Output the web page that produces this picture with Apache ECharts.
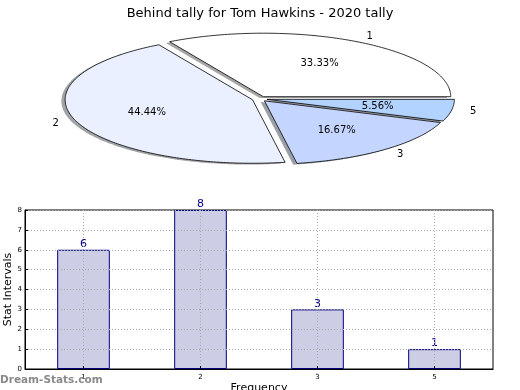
<!DOCTYPE html>
<html>
<head>
<meta charset="utf-8">
<script src="https://cdn.jsdelivr.net/npm/echarts@6/dist/echarts.min.js"></script>
<style>html,body{margin:0;padding:0;background:#fff;}#c{width:520px;height:390px;}</style>
</head>
<body>
<div id="c"></div>
<script>
// ---- data ----
const titleText = 'Behind tally for Tom Hawkins - 2020 tally';
const categories = ['1', '2', '3', '5'];
const counts = [6, 8, 3, 1];
const yMin = 0, yMax = 8, yStep = 1;
const xAxisName = 'Frequency';
const yAxisName = 'Stat Intervals';
const watermark = 'Dream-Stats.com';

// ---- styles ----
const sliceColors = ['#ffffff', '#eaf0ff', '#c4d6ff', '#b2d2ff'];
const EXPLODE = 0.04;
const FONT = 'DejaVu Sans';

function hexToRgb(h) {
  const n = parseInt(h.slice(1), 16);
  return [(n >> 16) & 255, (n >> 8) & 255, n & 255];
}

function renderPie(params, api) {
  const i = params.dataIndex;
  const total = counts.reduce((a, b) => a + b, 0);
  let cum = 0;
  for (let j = 0; j < i; j++) cum += counts[j];
  const v = api.value(1);
  const t1 = cum / total * Math.PI * 2;
  const t2 = (cum + v) / total * Math.PI * 2;
  const tm = (t1 + t2) / 2;
  const ex = EXPLODE * Math.cos(tm), ey = EXPLODE * Math.sin(tm);
  const n = Math.max(2, Math.ceil((t2 - t1) / (Math.PI / 180)));
  const pts = [api.coord([ex, ey])];
  const sh = [api.coord([ex - 0.02, ey - 0.02])];
  for (let k = 0; k <= n; k++) {
    const t = t1 + (t2 - t1) * k / n;
    pts.push(api.coord([ex + Math.cos(t), ey + Math.sin(t)]));
    sh.push(api.coord([ex - 0.02 + Math.cos(t), ey - 0.02 + Math.sin(t)]));
  }
  const rgb = hexToRgb(sliceColors[i % sliceColors.length]).map(c => Math.round(c * 0.3));
  const lx = ex + 1.1 * Math.cos(tm), ly = ey + 1.1 * Math.sin(tm);
  const lp = api.coord([lx, ly]);
  const px = ex + 0.6 * Math.cos(tm), py = ey + 0.6 * Math.sin(tm);
  const pp = api.coord([px, py]);
  return {
    type: 'group',
    children: [
      { type: 'polygon', z2: 0, shape: { points: sh },
        style: { fill: 'rgba(' + rgb.join(',') + ',0.5)', stroke: null } },
      { type: 'polygon', z2: 1, shape: { points: pts },
        style: { fill: sliceColors[i % sliceColors.length], stroke: '#000', lineWidth: 0.8 } },
      { type: 'text', z2: 2, x: lp[0], y: lp[1],
        style: { text: categories[i], fill: '#000', font: '10px "' + FONT + '"',
                 align: lx > 0 ? 'left' : 'right', verticalAlign: 'middle' } },
      { type: 'text', z2: 2, x: pp[0], y: pp[1],
        style: { text: (v / total * 100).toFixed(2) + '%', fill: '#000', font: '10px "' + FONT + '"',
                 align: 'center', verticalAlign: 'middle' } }
    ]
  };
}

const chart = echarts.init(document.getElementById('c'), null, { renderer: 'canvas' });
chart.setOption({
  animation: false,
  backgroundColor: '#fff',
  textStyle: { fontFamily: FONT },
  title: {
    text: titleText, left: 'center', top: 2,
    textStyle: { fontFamily: FONT, fontSize: 13, fontWeight: 'normal', color: '#000' }
  },
  grid: [
    { left: 25, right: 27, top: 210, bottom: 21, show: true, borderColor: '#000', borderWidth: 1,
      backgroundColor: 'transparent', containLabel: false, outerBoundsMode: 'none' },
    { left: 72.2, top: 35.4, width: 374.8, height: 127, containLabel: false, outerBoundsMode: 'none' }
  ],
  xAxis: [
    {
      gridIndex: 0, type: 'category', data: categories, z: 3,
      name: xAxisName, nameLocation: 'middle', nameGap: 14, nameMoveOverlap: false,
      nameTextStyle: { fontFamily: FONT, fontSize: 11, color: '#000' },
      axisLine: { lineStyle: { color: '#000', width: 1 } },
      axisTick: { show: true, inside: true, alignWithLabel: true, length: 3, lineStyle: { color: '#000' } },
      axisLabel: { fontSize: 7, color: '#000', margin: 5, fontFamily: FONT },
      splitLine: { show: true, alignWithLabel: true, lineStyle: { type: [1, 2], color: '#aaa', width: 1 } }
    },
    { gridIndex: 1, type: 'value', min: -1, max: 1, show: false }
  ],
  yAxis: [
    {
      gridIndex: 0, type: 'value', min: yMin, max: yMax, interval: yStep, z: 3,
      name: yAxisName, nameLocation: 'middle', nameGap: 11, nameRotate: 90, nameMoveOverlap: false,
      nameTextStyle: { fontFamily: FONT, fontSize: 11, color: '#000' },
      axisLine: { show: true, lineStyle: { color: '#000', width: 1 } },
      axisTick: { show: true, inside: true, length: 3, lineStyle: { color: '#000' } },
      axisLabel: { fontSize: 7, color: '#000', margin: 3, fontFamily: FONT },
      splitLine: { show: true, lineStyle: { type: [1, 2], color: '#aaa', width: 1 } }
    },
    { gridIndex: 1, type: 'value', min: -1, max: 1, show: false }
  ],
  series: [
    {
      type: 'bar', xAxisIndex: 0, yAxisIndex: 0, data: counts, barWidth: '45%',
      itemStyle: { color: '#cdcde6', borderColor: '#000080', borderWidth: 1 },
      label: { show: true, position: 'top', distance: 0, color: '#00008b', fontSize: 11, fontFamily: FONT }
    },
    {
      type: 'custom', coordinateSystem: 'cartesian2d', xAxisIndex: 1, yAxisIndex: 1, clip: false,
      data: categories.map((c, i) => [i, counts[i]]),
      renderItem: renderPie
    }
  ],
  graphic: [
    { type: 'text', left: 0, top: 375, z: 10,
      style: { text: watermark, fill: '#8a8a8a', font: 'bold 10.5px "' + FONT + '"' } }
  ]
});
</script>
</body>
</html>
